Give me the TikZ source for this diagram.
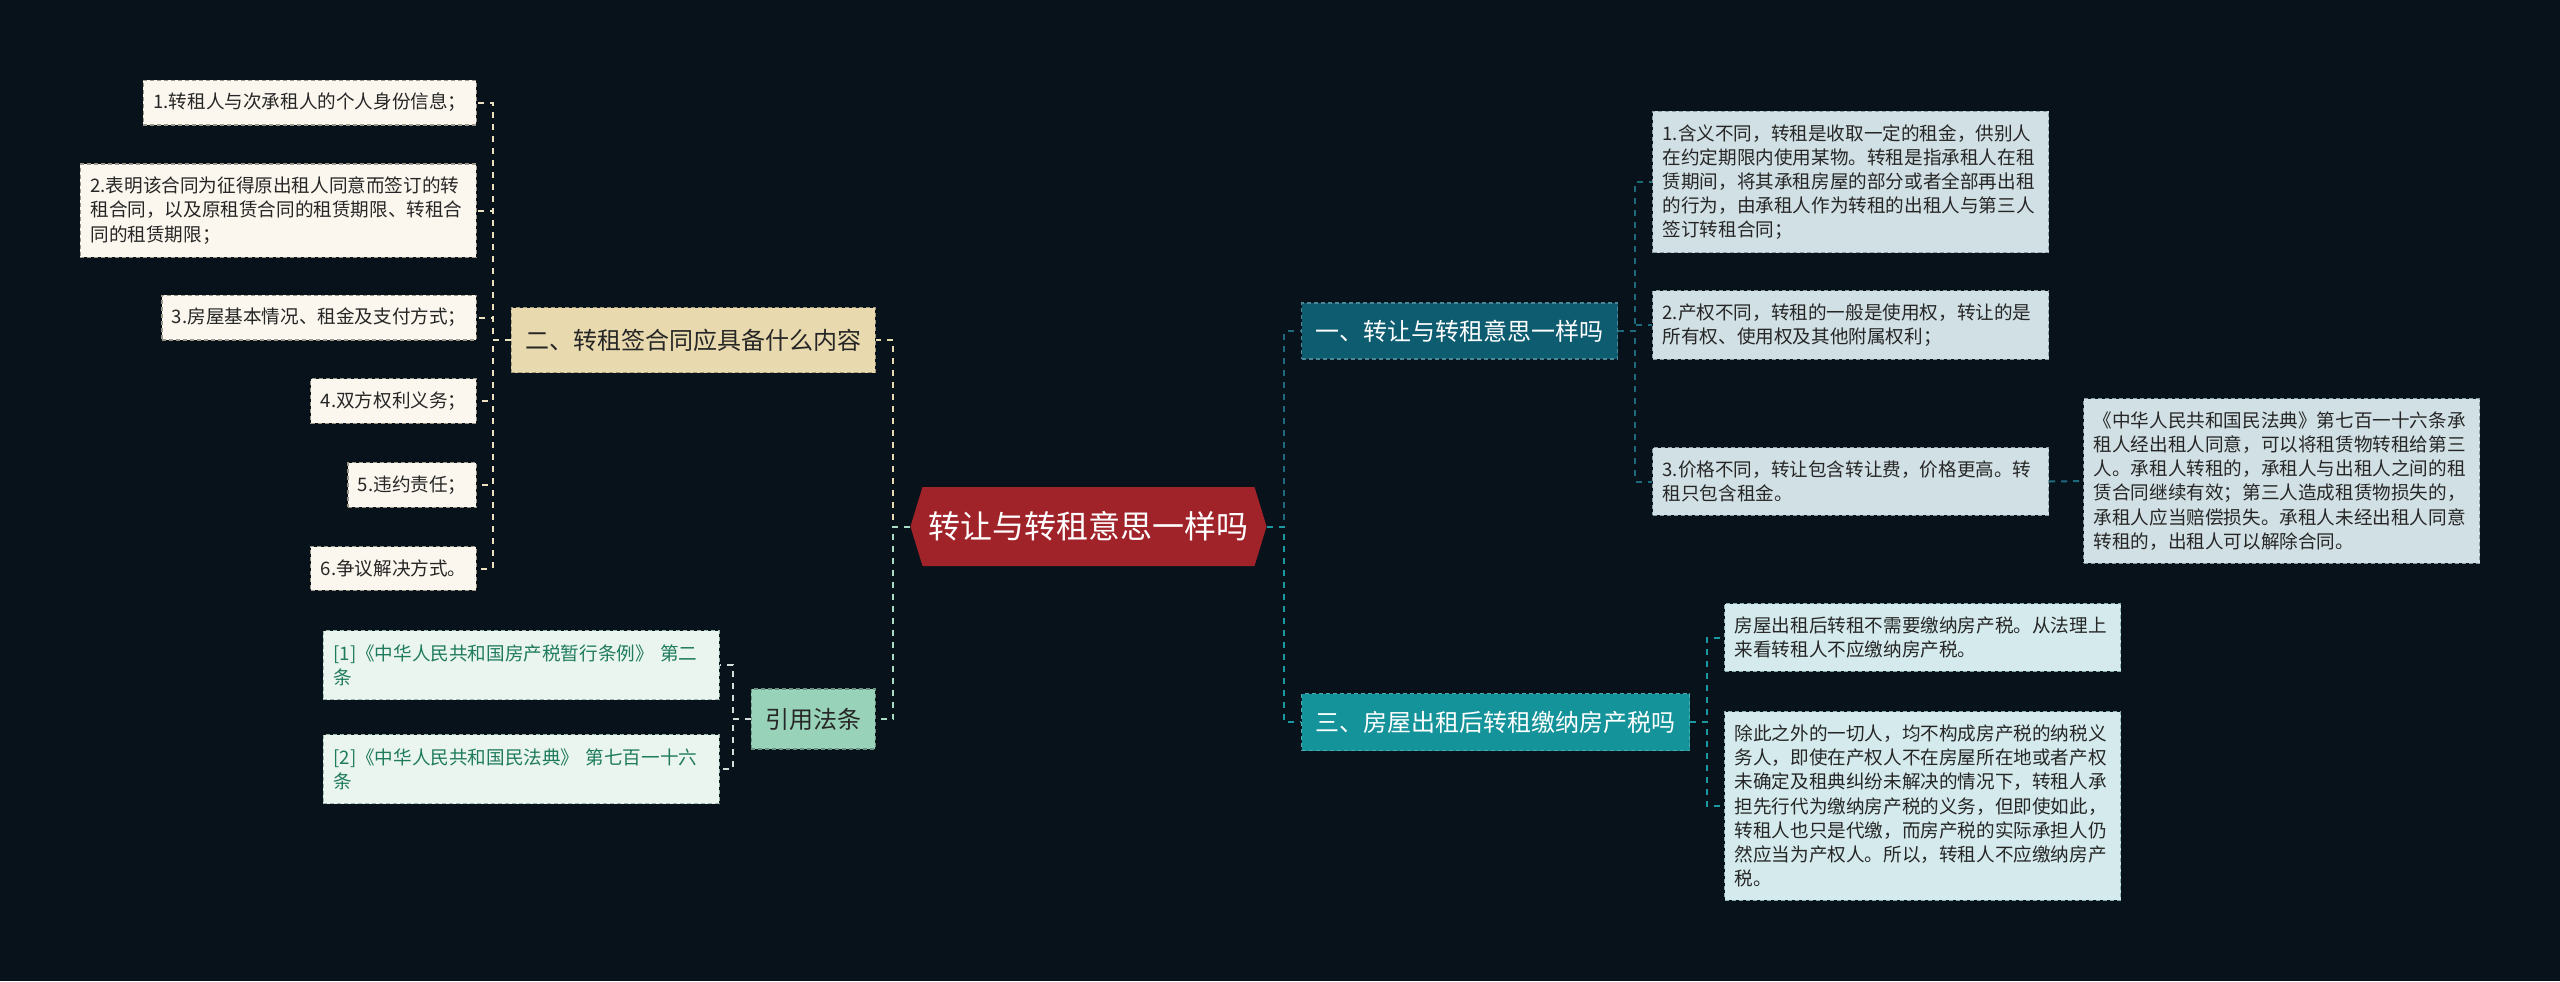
\documentclass[tikz,border=0pt]{standalone}
\usepackage{fontspec}
\setmainfont{Noto Sans CJK SC}
\usetikzlibrary{shapes.symbols}

\definecolor{bgdark}{HTML}{07121A}
\definecolor{rootred}{HTML}{A0232A}
\definecolor{tanfill}{HTML}{E8D9AE}
\definecolor{tanline}{HTML}{E6DAB0}
\definecolor{creamfill}{HTML}{FBF7EE}
\definecolor{creamedge}{HTML}{9C978A}
\definecolor{mintfill}{HTML}{98D2B8}
\definecolor{mintline}{HTML}{A8DCC4}
\definecolor{reffill}{HTML}{EAF5F0}
\definecolor{reftext}{HTML}{1E7B5C}
\definecolor{refedge}{HTML}{9BB8AC}
\definecolor{darkteal}{HTML}{0E5C70}
\definecolor{darktealline}{HTML}{1D6A7D}
\definecolor{bluefill}{HTML}{D1E0E5}
\definecolor{blueedge}{HTML}{8A9EA6}
\definecolor{teal}{HTML}{15939A}
\definecolor{tealline}{HTML}{1A9AA0}
\definecolor{cyanfill}{HTML}{D4EAEC}
\definecolor{cyanedge}{HTML}{8AAFB2}

\begin{document}
\begin{tikzpicture}[x=0.5pt, y=-0.5pt,
  box/.style={rectangle, line width=0.6pt, dash pattern=on 2pt off 1.5pt,
    inner xsep=5pt, inner ysep=6.5pt, text=black!85,
    font=\fontsize{9.3}{12.1}\selectfont},
  wide/.style={box, text width=188pt, align=left},
  branch/.style={rectangle, line width=0.6pt, dash pattern=on 2pt off 1.5pt,
    inner xsep=7pt, font=\fontsize{12}{14}\selectfont},
  link/.style={line width=1pt, dash pattern=on 3pt off 3pt}]

  \useasboundingbox (0,0) rectangle (2560,981);
  \fill[bgdark] (0,0) rectangle (2560,981);

  % Root
  \node[signal, signal to=west and east, signal pointer angle=146,
    fill=rootred, text=white, inner xsep=3pt, minimum height=39.5pt,
    font=\fontsize{16}{18}\selectfont] (root) at (1088.5,526.5) {转让与转租意思一样吗};

  % Left branch: what the contract contains
  \node[branch, fill=tanfill, draw=tanfill!70!black, text=black!85,
    minimum height=32.5pt, anchor=east] (contract) at (876,340) {二、转租签合同应具备什么内容};
  \node[box, fill=creamfill, draw=creamedge, anchor=east] (item1) at (477,102.5) {1.转租人与次承租人的个人身份信息；};
  \node[wide, fill=creamfill, draw=creamedge, anchor=east] (item2) at (477,210.5)
    {2.表明该合同为征得原出租人同意而签订的转\\租合同，以及原租赁合同的租赁期限、转租合\\同的租赁期限；};
  \node[box, fill=creamfill, draw=creamedge, anchor=east] (item3) at (477,317.5) {3.房屋基本情况、租金及支付方式；};
  \node[box, fill=creamfill, draw=creamedge, anchor=east] (item4) at (477,401) {4.双方权利义务；};
  \node[box, fill=creamfill, draw=creamedge, anchor=east] (item5) at (477,485) {5.违约责任；};
  \node[box, fill=creamfill, draw=creamedge, anchor=east] (item6) at (477,568.5) {6.争议解决方式。};

  % Left branch: cited laws
  \node[branch, fill=mintfill, draw=mintfill!70!black, text=black!85,
    minimum height=30pt, anchor=east] (laws) at (876,719) {引用法条};
  \node[wide, fill=reffill, draw=refedge, text=reftext, minimum height=34.5pt,
    anchor=east] (law1) at (720,665) {[1]《中华人民共和国房产税暂行条例》 第二\\条};
  \node[wide, fill=reffill, draw=refedge, text=reftext, minimum height=34.5pt,
    anchor=east] (law2) at (720,769) {[2]《中华人民共和国民法典》 第七百一十六\\条};

  % Right branch: meaning
  \node[branch, fill=darkteal, draw=darktealline!80!white, text=white,
    minimum height=28pt, anchor=west] (meaning) at (1301,331) {一、转让与转租意思一样吗};
  \node[wide, fill=bluefill, draw=blueedge, anchor=west] (diff1) at (1652,182)
    {1.含义不同，转租是收取一定的租金，供别人\\在约定期限内使用某物。转租是指承租人在租\\赁期间，将其承租房屋的部分或者全部再出租\\的行为，由承租人作为转租的出租人与第三人\\签订转租合同；};
  \node[wide, fill=bluefill, draw=blueedge, anchor=west] (diff2) at (1652,325)
    {2.产权不同，转租的一般是使用权，转让的是\\所有权、使用权及其他附属权利；};
  \node[wide, fill=bluefill, draw=blueedge, anchor=west] (diff3) at (1652,481.5)
    {3.价格不同，转让包含转让费，价格更高。转\\租只包含租金。};
  \node[wide, fill=bluefill, draw=blueedge, anchor=west] (civil) at (2083,481)
    {《中华人民共和国民法典》第七百一十六条承\\租人经出租人同意，可以将租赁物转租给第三\\人。承租人转租的，承租人与出租人之间的租\\赁合同继续有效；第三人造成租赁物损失的，\\承租人应当赔偿损失。承租人未经出租人同意\\转租的，出租人可以解除合同。};

  % Right branch: property tax
  \node[branch, fill=teal, draw=tealline!80!white, text=white,
    minimum height=28.5pt, anchor=west] (tax) at (1301,722) {三、房屋出租后转租缴纳房产税吗};
  \node[wide, fill=cyanfill, draw=cyanedge, anchor=west] (tax1) at (1724,637.5)
    {房屋出租后转租不需要缴纳房产税。从法理上\\来看转租人不应缴纳房产税。};
  \node[wide, fill=cyanfill, draw=cyanedge, anchor=west] (tax2) at (1724,806)
    {除此之外的一切人，均不构成房产税的纳税义\\务人，即使在产权人不在房屋所在地或者产权\\未确定及租典纠纷未解决的情况下，转租人承\\担先行代为缴纳房产税的义务，但即使如此，\\转租人也只是代缴，而房产税的实际承担人仍\\然应当为产权人。所以，转租人不应缴纳房产\\税。};

  % Connectors
  \draw[link, tanline] (root.west) -- ++(-17,0) |- (contract.east);
  \draw[link, mintline] (root.west) -- ++(-17,0) |- (laws.east);
  \draw[link, darktealline] (root.east) -- ++(17,0) |- (meaning.west);
  \draw[link, tealline] (root.east) -- ++(17,0) |- (tax.west);
  \foreach \n in {item1,item2,item3,item4,item5,item6}
    \draw[link, tanline!80!white] (contract.west) -- ++(-18,0) |- (\n.east);
  \foreach \n in {law1,law2}
    \draw[link, reffill!80!gray] (laws.west) -- ++(-18,0) |- (\n.east);
  \foreach \n in {diff1,diff2,diff3}
    \draw[link, darktealline] (meaning.east) -- ++(17,0) |- (\n.west);
  \draw[link, darktealline] (diff3.east) -- (civil.west);
  \foreach \n in {tax1,tax2}
    \draw[link, tealline] (tax.east) -- ++(17,0) |- (\n.west);
\end{tikzpicture}
\end{document}
